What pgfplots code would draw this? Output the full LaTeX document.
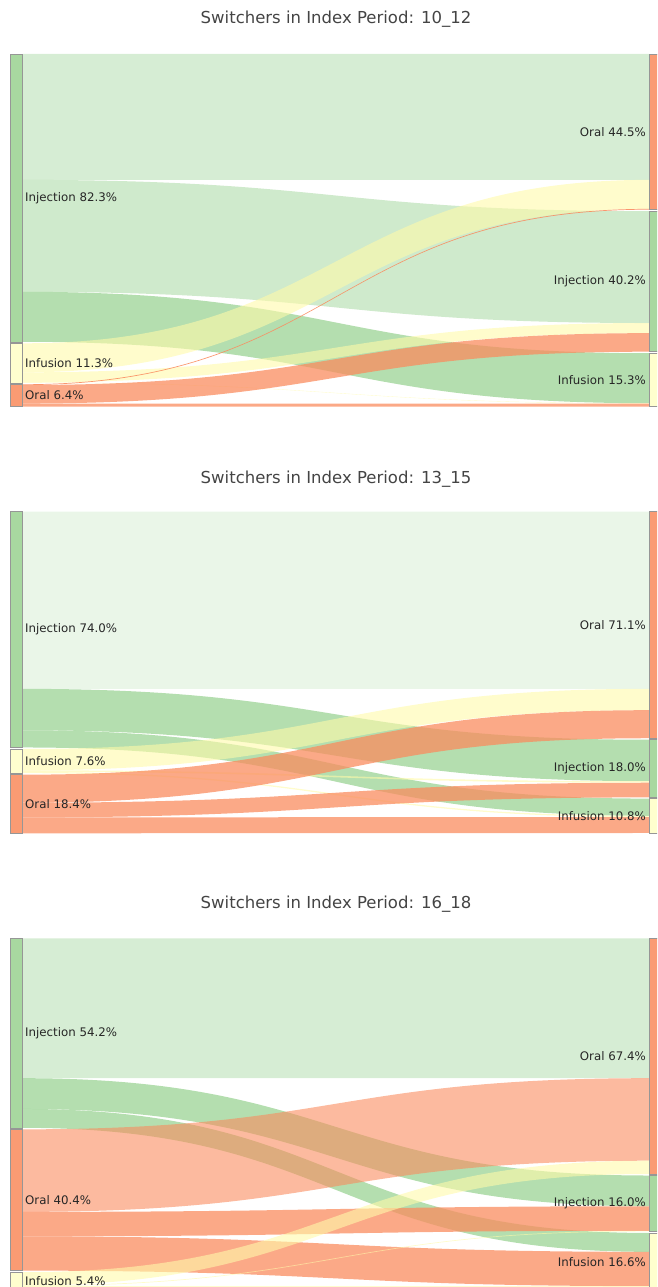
\documentclass[border=0pt]{standalone}
\usepackage{pgfplots}
\pgfplotsset{compat=1.18}
\usepackage{pgfplotstable}
\usepackage{fontspec}
\setmainfont{DejaVu Sans}
\newcommand\lblstyle{\fontsize{11.8}{13}\selectfont}
\newcommand\ttlstyle{\fontsize{16.5}{18}\selectfont}

\definecolor{injnode}{RGB}{168,216,160}
\definecolor{infnode}{RGB}{255,255,206}
\definecolor{oranode}{RGB}{250,155,115}
\definecolor{injlink}{RGB}{148,208,141}
\definecolor{inflink}{RGB}{255,250,170}
\definecolor{oralink}{RGB}{250,140,95}
\definecolor{nodeedge}{RGB}{150,150,150}
\definecolor{titlegray}{RGB}{68,68,68}
\definecolor{labelgray}{RGB}{38,38,38}

% nodes: side 0 = before switch (left), 1 = after switch (right); slot = position from the top
\pgfplotstableread{
side slot v c name
0 0 82.3 injnode Injection
0 1 11.3 infnode Infusion
0 2 6.4 oranode Oral
1 0 44.5 oranode Oral
1 1 40.2 injnode Injection
1 2 15.3 infnode Infusion
}\nodesA
% flows: s = left slot, t = right slot, v = share of switchers (%)
\pgfplotstableread{
s t v c o
0 0 36.0 injlink 0.38
0 1 32.0 injlink 0.45
0 2 14.3 injlink 0.70
1 0 8.3 inflink 0.60
1 1 2.9 inflink 0.60
1 2 0.1 inflink 0.60
2 0 0.2 oralink 0.90
2 1 5.3 oralink 0.75
2 2 0.9 oralink 0.75
}\flowsA

\pgfplotstableread{
side slot v c name
0 0 74.0 injnode Injection
0 1 7.6 infnode Infusion
0 2 18.4 oranode Oral
1 0 71.1 oranode Oral
1 1 18.0 injnode Injection
1 2 10.8 infnode Infusion
}\nodesB
\pgfplotstableread{
s t v c o
0 0 55.6 injlink 0.20
0 1 13.0 injlink 0.70
0 2 5.4 injlink 0.70
1 0 6.7 inflink 0.60
1 1 0.5 inflink 0.60
1 2 0.4 inflink 0.60
2 0 8.8 oralink 0.75
2 1 4.6 oralink 0.75
2 2 5.0 oralink 0.75
}\flowsB

\pgfplotstableread{
side slot v c name
0 0 54.2 injnode Injection
0 1 40.4 oranode Oral
0 2 5.4 infnode Infusion
1 0 67.4 oranode Oral
1 1 16.0 injnode Injection
1 2 16.6 infnode Infusion
}\nodesC
\pgfplotstableread{
s t v c o
0 0 40.0 injlink 0.38
0 1 8.8 injlink 0.70
0 2 5.4 injlink 0.70
1 0 23.6 oralink 0.60
1 1 7.0 oralink 0.75
1 2 9.8 oralink 0.75
2 0 3.8 inflink 0.60
2 1 0.2 inflink 0.60
2 2 1.4 inflink 0.60
}\flowsC

% #1 nodes, #2 flows, #3 top y, #4 px per percent, #5 title, #6 title y
\newcommand\sankeypanel[6]{%
  \pgfplotstablegetrowsof{#1}\pgfmathtruncatemacro\nlast{\pgfplotsretval-1}%
  \xdef\curL{#3}\xdef\curR{#3}%
  \foreach \i in {0,...,\nlast}{%
    \pgfplotstablegetelem{\i}{side}\of{#1}\edef\side{\pgfplotsretval}%
    \pgfplotstablegetelem{\i}{slot}\of{#1}\edef\slot{\pgfplotsretval}%
    \pgfplotstablegetelem{\i}{v}\of{#1}\edef\val{\pgfplotsretval}%
    \ifnum\side=0 \edef\cur{\curL}\else\edef\cur{\curR}\fi
    \pgfmathsetmacro\yend{\cur+\val*#4}%
    \expandafter\xdef\csname nya\side\slot\endcsname{\cur}%
    \expandafter\xdef\csname nyb\side\slot\endcsname{\yend}%
    \pgfmathsetmacro\ynext{\yend+1.5}%
    \ifnum\side=0 \xdef\curL{\ynext}\else\xdef\curR{\ynext}\fi
  }%
  \foreach \k in {0,1,2}{%
    \expandafter\xdef\csname sc\k\endcsname{\csname nya0\k\endcsname}%
    \expandafter\xdef\csname tc\k\endcsname{\csname nya1\k\endcsname}%
  }%
  % links
  \pgfplotstablegetrowsof{#2}\pgfmathtruncatemacro\flast{\pgfplotsretval-1}%
  \foreach \i in {0,...,\flast}{%
    \pgfplotstablegetelem{\i}{s}\of{#2}\edef\sr{\pgfplotsretval}%
    \pgfplotstablegetelem{\i}{t}\of{#2}\edef\tg{\pgfplotsretval}%
    \pgfplotstablegetelem{\i}{v}\of{#2}\edef\val{\pgfplotsretval}%
    \pgfplotstablegetelem{\i}{c}\of{#2}\edef\col{\pgfplotsretval}%
    \pgfplotstablegetelem{\i}{o}\of{#2}\edef\op{\pgfplotsretval}%
    \edef\ya{\csname sc\sr\endcsname}%
    \edef\yb{\csname tc\tg\endcsname}%
    \pgfmathsetmacro\yaa{\ya+\val*#4}%
    \pgfmathsetmacro\ybb{\yb+\val*#4}%
    \expandafter\xdef\csname sc\sr\endcsname{\yaa}%
    \expandafter\xdef\csname tc\tg\endcsname{\ybb}%
    \edef\tmp{\noexpand\fill[\col, fill opacity=\op]
      (axis cs:22.5,\ya) .. controls (axis cs:335.75,\ya) and (axis cs:335.75,\yb) .. (axis cs:649,\yb)
      -- (axis cs:649,\ybb) .. controls (axis cs:335.75,\ybb) and (axis cs:335.75,\yaa) .. (axis cs:22.5,\yaa) -- cycle;}%
    \tmp
  }%
  % nodes and labels
  \foreach \i in {0,...,\nlast}{%
    \pgfplotstablegetelem{\i}{side}\of{#1}\edef\side{\pgfplotsretval}%
    \pgfplotstablegetelem{\i}{slot}\of{#1}\edef\slot{\pgfplotsretval}%
    \pgfplotstablegetelem{\i}{v}\of{#1}\edef\val{\pgfplotsretval}%
    \pgfplotstablegetelem{\i}{c}\of{#1}\edef\col{\pgfplotsretval}%
    \pgfplotstablegetelem{\i}{name}\of{#1}\edef\nam{\pgfplotsretval}%
    \edef\ya{\csname nya\side\slot\endcsname}%
    \edef\yb{\csname nyb\side\slot\endcsname}%
    \pgfmathsetmacro\ymid{(\ya+\yb)/2}%
    \ifnum\side=0 \def\xl{10}\def\xr{22.5}\def\xt{25}\def\anc{west}%
    \else \def\xl{649}\def\xr{661.5}\def\xt{646}\def\anc{east}\fi
    \edef\tmp{\noexpand\filldraw[fill=\col, draw=nodeedge, line width=0.5pt]
      (axis cs:\xl,\ya) rectangle (axis cs:\xr,\yb);
      \noexpand\node[anchor=\anc, inner sep=0pt, text=labelgray, font=\noexpand\lblstyle]
      at (axis cs:\xt,\ymid) {\nam\space\val\noexpand\%};}%
    \tmp
  }%
  \node[font=\ttlstyle, text=titlegray] at (axis cs:336,#6) {#5};
}

\begin{document}
\begin{tikzpicture}
\path[use as bounding box] (0,0) rectangle (657pt,1287pt);
\begin{axis}[
  width=657pt, height=1287pt, scale only axis,
  xmin=0, xmax=657, ymin=0, ymax=1287, y dir=reverse,
  hide axis, clip=true,
]
\sankeypanel{\nodesA}{\flowsA}{54}{3.497}{Switchers in Index Period: 10\_12}{19}
\sankeypanel{\nodesB}{\flowsB}{511.7}{3.186}{Switchers in Index Period: 13\_15}{479}
\sankeypanel{\nodesC}{\flowsC}{938.3}{3.497}{Switchers in Index Period: 16\_18}{904}
\end{axis}
\end{tikzpicture}
\end{document}
